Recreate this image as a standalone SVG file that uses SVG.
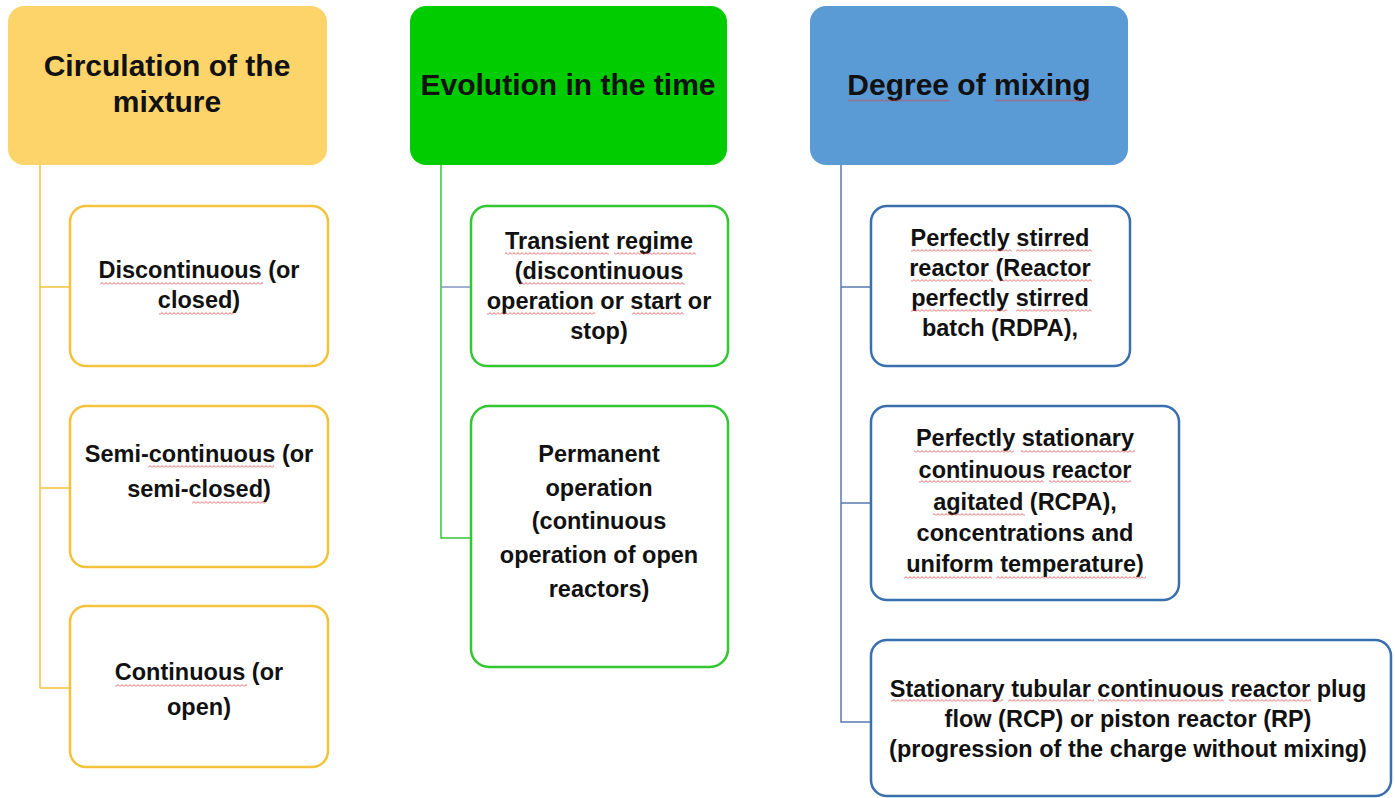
<svg xmlns="http://www.w3.org/2000/svg" width="1395" height="798" viewBox="0 0 1395 798">
<style>
text{font-family:"Liberation Sans",Arial,sans-serif;font-weight:bold;fill:#111;text-anchor:middle}
.h{font-size:30px}
.c{font-size:23.5px}
.sq{fill:url(#wv)}
.yb{fill:#fff;stroke:#F2C33A;stroke-width:2.5}
.gb{fill:#fff;stroke:#33C833;stroke-width:2.5}
.bb{fill:#fff;stroke:#3A6FAE;stroke-width:2.5}
.yl{fill:none;stroke:#F2C33A;stroke-width:1.5}
.gl{fill:none;stroke:#33C833;stroke-width:1.5}
.bl{fill:none;stroke:#5A78B0;stroke-width:1.5}
</style>
<defs>
<pattern id="wv" patternUnits="userSpaceOnUse" width="4" height="3">
<path d="M0,2.6 L2,0.6 L4,2.6" fill="none" stroke="#E03C3C" stroke-width="0.8"/>
</pattern>
</defs>
<rect width="1395" height="798" fill="#fff"/>
<g id="connectors">
<path class="yl" d="M40,165 V688 M40,287 H70 M40,488 H70 M40,688 H70"/>
<path class="gl" d="M441,165 V538 H471"/>
<path fill="none" stroke="#8494C2" stroke-width="1.5" d="M441,287 H471"/>
<path class="bl" d="M841,165 V722 H871 M841,287 H871 M841,503 H871"/>
</g>
<g id="h1">
<rect x="8" y="6" width="319" height="159" rx="16" fill="#FDD46A"/>
<text class="h" x="167" y="76">Circulation of the</text>
<text class="h" x="167" y="112">mixture</text>
</g>
<g id="h2">
<rect x="410" y="6" width="317" height="159" rx="16" fill="#00CC00"/>
<text class="h" x="568" y="95">Evolution in the time</text>
</g>
<g id="h3">
<rect x="810" y="6" width="318" height="159" rx="16" fill="#5B9BD5"/>
<text class="h" x="969" y="95">Degree of mixing</text>
<rect class="sq" x="848" y="99" width="102" height="3"/>
<rect class="sq" x="994" y="99" width="96" height="3"/>
</g>
<g id="y1">
<rect class="yb" x="70" y="206" width="258" height="160" rx="16"/>
<text class="c" x="199" y="278">Discontinuous (or</text>
<text class="c" x="199" y="308">closed)</text>
<rect class="sq" x="100" y="282" width="163" height="3"/>
<rect class="sq" x="159" y="312" width="75" height="3"/>
</g>
<g id="y2">
<rect class="yb" x="70" y="406" width="258" height="161" rx="16"/>
<text class="c" x="199" y="462">Semi-continuous (or</text>
<text class="c" x="199" y="497">semi-closed)</text>
<rect class="sq" x="148" y="465" width="126" height="3"/>
<rect class="sq" x="192" y="501" width="74" height="3"/>
</g>
<g id="y3">
<rect class="yb" x="70" y="606" width="258" height="161" rx="16"/>
<text class="c" x="199" y="680">Continuous (or</text>
<text class="c" x="199" y="715">open)</text>
<rect class="sq" x="115" y="684" width="132" height="3"/>
</g>
<g id="g1">
<rect class="gb" x="471" y="206" width="257" height="160" rx="16"/>
<text class="c" x="599" y="249">Transient regime</text>
<text class="c" x="599" y="279">(discontinuous</text>
<text class="c" x="599" y="309">operation or start or</text>
<text class="c" x="599" y="339">stop)</text>
<rect class="sq" x="505" y="252" width="104" height="3"/>
<rect class="sq" x="614" y="252" width="82" height="3"/>
<rect class="sq" x="520" y="282" width="165" height="3"/>
<rect class="sq" x="487" y="312" width="108" height="3"/>
<rect class="sq" x="632" y="312" width="52" height="3"/>
</g>
<g id="g2">
<rect class="gb" x="471" y="406" width="257" height="261" rx="18"/>
<text class="c" x="599" y="462">Permanent</text>
<text class="c" x="599" y="496">operation</text>
<text class="c" x="599" y="529">(continuous</text>
<text class="c" x="599" y="563">operation of open</text>
<text class="c" x="599" y="597">reactors)</text>
</g>
<g id="b1">
<rect class="bb" x="871" y="206" width="259" height="160" rx="16"/>
<text class="c" x="1000" y="246">Perfectly stirred</text>
<text class="c" x="1000" y="276">reactor (Reactor</text>
<text class="c" x="1000" y="306">perfectly stirred</text>
<text class="c" x="1000" y="336">batch (RDPA),</text>
<rect class="sq" x="911" y="249" width="101" height="3"/>
<rect class="sq" x="1016" y="249" width="76" height="3"/>
<rect class="sq" x="911" y="279" width="82" height="3"/>
<rect class="sq" x="1000" y="279" width="92" height="3"/>
<rect class="sq" x="911" y="309" width="96" height="3"/>
<rect class="sq" x="1016" y="309" width="76" height="3"/>
</g>
<g id="b2">
<rect class="bb" x="871" y="406" width="308" height="194" rx="16"/>
<text class="c" x="1025" y="446">Perfectly stationary</text>
<text class="c" x="1025" y="478">continuous reactor</text>
<text class="c" x="1025" y="510">agitated (RCPA),</text>
<text class="c" x="1025" y="541">concentrations and</text>
<text class="c" x="1025" y="572">uniform temperature)</text>
<rect class="sq" x="914" y="450" width="100" height="3"/>
<rect class="sq" x="1021" y="450" width="114" height="3"/>
<rect class="sq" x="919" y="480" width="125" height="3"/>
<rect class="sq" x="1049" y="480" width="82" height="3"/>
<rect class="sq" x="933" y="513" width="92" height="3"/>
<rect class="sq" x="904" y="576" width="88" height="3"/>
<rect class="sq" x="996" y="576" width="150" height="3"/>
</g>
<g id="b3">
<rect class="bb" x="871" y="640" width="520" height="156" rx="16"/>
<text class="c" x="1128" y="697">Stationary tubular continuous reactor plug</text>
<text class="c" x="1128" y="727">flow (RCP) or piston reactor (RP)</text>
<text class="c" x="1128" y="757">(progression of the charge without mixing)</text>
<rect class="sq" x="891" y="699" width="112" height="3"/>
<rect class="sq" x="1008" y="699" width="86" height="3"/>
<rect class="sq" x="1098" y="699" width="126" height="3"/>
<rect class="sq" x="1229" y="699" width="82" height="3"/>
</g>
</svg>
